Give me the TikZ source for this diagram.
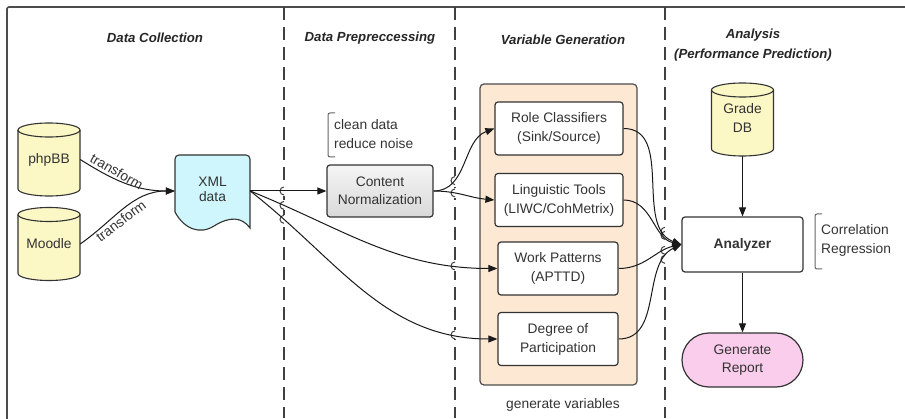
\documentclass[tikz,border=0pt]{standalone}
\usepackage{fontspec}
\setmainfont{Liberation Sans}
\usetikzlibrary{arrows.meta,calc,intersections}

\definecolor{inkgray}{HTML}{333333}
\definecolor{cylyellow}{HTML}{FBF8C6}
\definecolor{xmlcyan}{HTML}{CFF6FC}
\definecolor{peach}{HTML}{FDE8D4}
\definecolor{reportpink}{HTML}{F9CDEB}

% database cylinder: name, centre x, centre y, text
\newcommand\dbcyl[4]{%
  \draw[cylborder, fill=cylyellow]
    ({#2-31},{#3+29.5}) -- ({#2-31},{#3-29.5})
    arc[start angle=180, end angle=360, x radius=31, y radius=7]
    -- ({#2+31},{#3+29.5})
    arc[start angle=0, end angle=180, x radius=31, y radius=7] -- cycle;
  \draw[cylborder] ({#2+31},{#3+29.5})
    arc[start angle=0, end angle=-180, x radius=31, y radius=7];
  \node[cylbody] (#1) at (#2,#3) {#4};
}

% small hop of a lane separator over a connector: lane path, connector path
\newcommand\lanehop[2]{%
  \path[name intersections={of=#1 and #2, name=ip}];
  \fill[white] ($(ip-1)+(-1.4,-4.6)$) rectangle ($(ip-1)+(1.4,4.6)$);
  \draw[line width=1pt, black!75] ($(ip-1)+(0,4)$) arc[start angle=90, end angle=270, radius=4];
}

\begin{document}
\begin{tikzpicture}[x=1pt, y=1pt,
  every node/.style={font=\fontsize{13.8}{19}\selectfont, text=inkgray, align=center},
  heading/.style={font=\fontsize{13.2}{20}\selectfont\bfseries\itshape, text=black!85},
  lane/.style={dash pattern=on 13pt off 7pt, line width=1.1pt, black!75},
  cylborder/.style={line width=1.1pt, black!80},
  cylbody/.style={minimum width=62pt, minimum height=73pt, inner sep=0pt},
  stepbox/.style={draw=black!80, line width=1.2pt, rounded corners=3pt, fill=white,
    minimum width=128pt, minimum height=53pt, inner sep=0pt},
  conn/.style={line width=1pt, black!90, -{Triangle[length=9pt, width=7pt]}},
  bracket/.style={line width=1pt, black!60, rounded corners=2pt},
  note/.style={align=left, inner sep=0pt}
]
\useasboundingbox (0,0) rectangle (905,418);
\clip (0,0) rectangle (905,418);

% outer frame
\draw[line width=1.6pt, black!70, rounded corners=2pt] (7,411) rectangle (920,-10);

% swim-lane separators
\draw[lane, name path=laneA] (284,411) -- (284,0);
\draw[lane, name path=laneB] (455,411) -- (455,0);
\draw[lane, name path=laneC] (665,411) -- (665,0);

% lane headings
\node[heading] (h1) at (155,380) {Data Collection};
\node[heading] (h2) at (370,380) {Data Prepreccessing};
\node[heading] (h3) at (563,378) {Variable Generation};
\node[heading] (h4) at (753,373) {Analysis\\(Performance Prediction)};

% data sources
\dbcyl{php}{49}{258.5}{phpBB}
\dbcyl{moodle}{49}{174}{Moodle}
\dbcyl{grade}{742.5}{298.5}{\raisebox{4pt}{\begin{tabular}{@{}c@{}}Grade\\DB\end{tabular}}}

% XML document
\draw[line width=1.1pt, black!80, fill=xmlcyan]
  (175,206) -- (175,259) to[out=90,in=180] (179,263) -- (246,263)
  to[out=0,in=90] (250,259) -- (250,190)
  .. controls (242,201) and (230,202) .. (214,192)
  .. controls (200,183) and (184,189) .. (175,206) -- cycle;
\node[minimum width=75pt, minimum height=70pt, inner sep=0pt,
  font=\fontsize{13.8}{15.5}\selectfont] (xml) at (212.5,227) {\raisebox{5pt}{\begin{tabular}{@{}c@{}}XML\\data\end{tabular}}};

% preprocessing
\node[draw=black!80, line width=1.2pt, rounded corners=3pt, top color=black!4, bottom color=black!15,
  minimum width=106pt, minimum height=52pt, inner sep=0pt, font=\fontsize{13.8}{18}\selectfont] (cn) at (380,227) {Content\\Normalization};
\draw[bracket] (335,305) -- (328,305) -- (328,261) -- (335,261);
\node[note, anchor=west] (cnnote) at (334,284) {clean data\\reduce noise};

% variable generation group
\node[draw=black!70, line width=1.2pt, fill=peach, rounded corners=4pt,
  minimum width=157pt, minimum height=301pt, inner sep=0pt] (vg) at (558.5,183.5) {};
\node (vglabel) at (563,13) {generate variables};

\node[stepbox] (role) at (559,289.5) {Role Classifiers\\(Sink/Source)};
\node[stepbox] (ling) at (559,218) {Linguistic Tools\\(LIWC/CohMetrix)};
\node[stepbox, minimum width=120pt] (work) at (558,149.5) {Work Patterns\\(APTTD)};
\node[stepbox, minimum width=120pt] (deg) at (558,79) {Degree of\\Participation};

% analysis
\node[draw=black!80, line width=1.2pt, rounded corners=3pt, fill=white,
  minimum width=121pt, minimum height=55pt, inner sep=0pt, font=\fontsize{13.8}{19}\selectfont\bfseries] (an) at (742.5,173.5) {Analyzer};
\draw[bracket] (822,204) -- (815,204) -- (815,149) -- (822,149);
\node[note, anchor=west] (annote) at (821,178) {Correlation\\Regression};
\node[draw=black!80, line width=1.2pt, rounded corners=27pt, fill=reportpink,
  minimum width=121pt, minimum height=54pt, inner sep=0pt, font=\fontsize{13.8}{18}\selectfont] (rep) at (742.5,58) {Generate\\Report};

% connector routes crossing the lane separators
\def\cXC{(xml.east) -- (cn.west)}
\def\cXW{(xml.east) to[out=-22,in=180] (work.west)}
\def\cXD{(xml.east) to[out=-38,in=180] (deg.west)}
\def\cCR{(cn.east) to[out=0,in=200] (role.west)}
\def\cCL{(cn.east) to[out=0,in=175] (ling.west)}
\def\cRA{(role.east) to[out=0,in=160] (an.west)}
\def\cLA{(ling.east) to[out=0,in=168] (an.west)}
\def\cWA{(work.east) to[out=0,in=192] (an.west)}
\def\cDA{(deg.east) to[out=0,in=205] (an.west)}

\path[name path=pXC] \cXC;
\path[name path=pXW] \cXW;
\path[name path=pXD] \cXD;
\path[name path=pCR] \cCR;
\path[name path=pCL] \cCL;
\path[name path=pRA] \cRA;
\path[name path=pLA] \cLA;
\path[name path=pWA] \cWA;
\path[name path=pDA] \cDA;

% separators hop over the connectors
\lanehop{laneA}{pXC}
\lanehop{laneA}{pXW}
\lanehop{laneA}{pXD}
\lanehop{laneB}{pXW}
\lanehop{laneB}{pXD}
\lanehop{laneB}{pCR}
\lanehop{laneB}{pCL}
\lanehop{laneC}{pRA}
\lanehop{laneC}{pLA}
\lanehop{laneC}{pWA}
\lanehop{laneC}{pDA}

% connectors
\draw[conn] (php.east) to[out=-32,in=180]
  node[pos=0.36, anchor=south, rotate=-30, inner sep=2pt] (t1) {transform} (xml.west);
\draw[conn] (moodle.east) to[out=35,in=180]
  node[pos=0.4, anchor=north, rotate=37, inner sep=2pt] (t2) {transform} (xml.west);

\draw[conn] \cXC;
\draw[conn] \cXW;
\draw[conn] \cXD;
\draw[conn] \cCR;
\draw[conn] \cCL;
\draw[conn] \cRA;
\draw[conn] \cLA;
\draw[conn] \cWA;
\draw[conn] \cDA;

\draw[conn] (grade.south) -- (an.north);
\draw[conn] (an.south) -- (rep.north);
\end{tikzpicture}
\end{document}
